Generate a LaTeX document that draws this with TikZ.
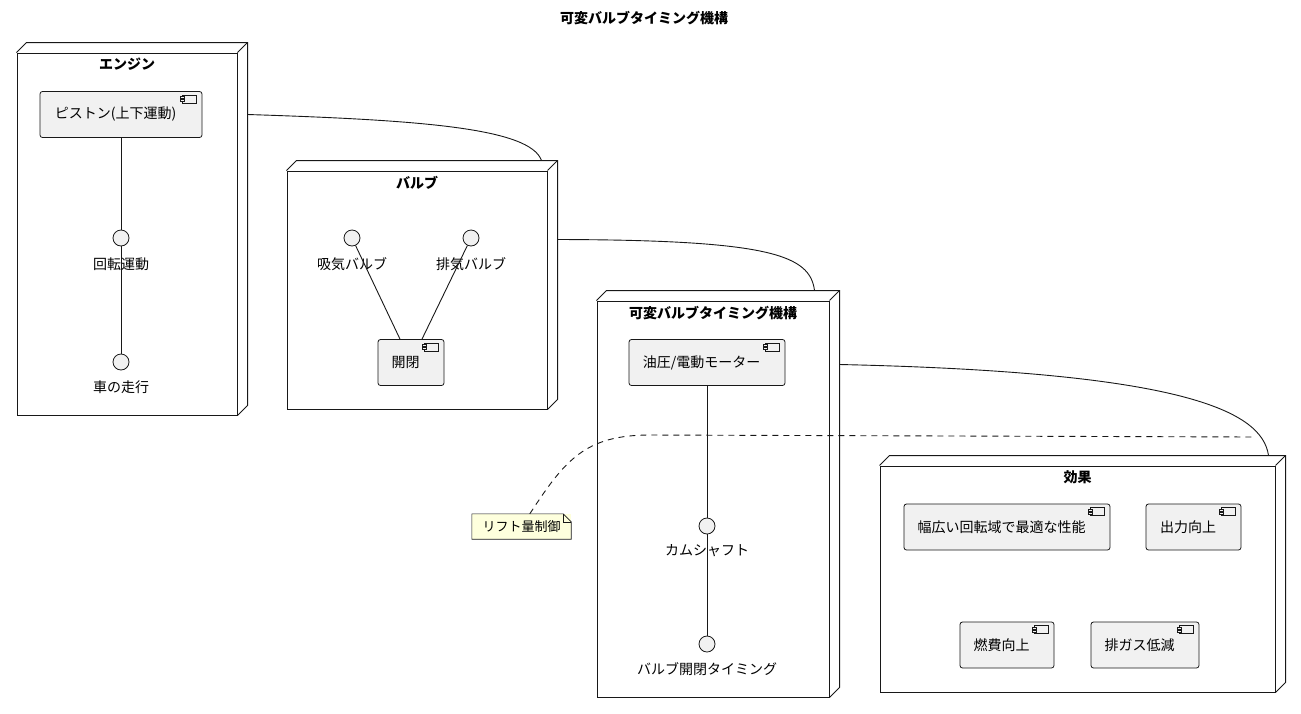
\documentclass[tikz,border=0pt]{standalone}
\usepackage{fontspec}
\setmainfont{Noto Sans CJK JP}
\usepackage{tikz}
\usetikzlibrary{calc}
\definecolor{UMLGray}{HTML}{F1F1F1}
\definecolor{UMLLine}{HTML}{181818}
\definecolor{UMLNote}{HTML}{FEFFDD}
\tikzstyle{box} = [draw=UMLLine, line width=1pt, inner sep=0pt]
\tikzstyle{boxtitle} = [font=\fontsize{14}{16}\selectfont\bfseries, anchor=north]
\tikzstyle{comp} = [draw=UMLLine, fill=UMLGray, rounded corners=2.5pt, line width=0.8pt, font=\fontsize{14}{16}\selectfont, minimum height=46pt, inner sep=0pt]
\tikzstyle{iface} = [circle, draw=UMLLine, fill=UMLGray, minimum size=16pt, inner sep=0pt, line width=0.8pt]
\tikzstyle{lbl} = [font=\fontsize{14}{16}\selectfont, inner sep=1pt]
\tikzstyle{note} = [fill=UMLNote, font=\fontsize{13}{15}\selectfont, minimum width=99pt, minimum height=25pt, inner sep=0pt]
\tikzstyle{link} = [UMLLine, line width=0.9pt]
% component text sits low and leaves room for the symbol
\newcommand{\ctext}[1]{\raisebox{-3.5pt}{#1}\hspace*{11pt}}
% small component symbol in the top right corner
\newcommand{\compicon}[1]{
  \draw[UMLLine, line width=0.5pt, fill=UMLGray] ($(#1.north east)+(-20,4)$) rectangle ($(#1.north east)+(-6,12)$);
  \draw[UMLLine, line width=0.5pt, fill=UMLGray] ($(#1.north east)+(-22,5.5)$) rectangle ($(#1.north east)+(-18,7.5)$);
  \draw[UMLLine, line width=0.5pt, fill=UMLGray] ($(#1.north east)+(-22,8.5)$) rectangle ($(#1.north east)+(-18,10.5)$);
}
% 3d edges of a node box
\newcommand{\boxdepth}[1]{
  \draw[UMLLine, line width=1pt] (#1.north west) -- ++(10,-10) -- ($(#1.north east)+(10,-10)$) -- ($(#1.south east)+(10,-10)$) -- (#1.south east);
  \draw[UMLLine, line width=1pt] (#1.north east) -- ++(10,-10);
}

\begin{document}
\begin{tikzpicture}[x=1pt, y=-1pt]
  \useasboundingbox (0,0) rectangle (1301,713);
  \node[boxtitle] (title) at (644,8) {可変バルブタイミング機構};

  % the four node boxes
  \node[box, minimum width=220pt, minimum height=362pt] (engine) at (127,234) {};
  \node[boxtitle] (enginetitle) at ($(engine.north)+(0,2)$) {エンジン};
  \node[box, minimum width=260pt, minimum height=238pt] (valve) at (417,290) {};
  \node[boxtitle] (valvetitle) at ($(valve.north)+(0,2)$) {バルブ};
  \node[box, minimum width=232pt, minimum height=396pt] (vvt) at (713,499) {};
  \node[boxtitle] (vvttitle) at ($(vvt.north)+(0,2)$) {可変バルブタイミング機構};
  \node[box, minimum width=395pt, minimum height=226pt] (effect) at (1077.5,579) {};
  \node[boxtitle] (effecttitle) at ($(effect.north)+(0,2)$) {効果};
  \foreach \b in {engine,valve,vvt,effect} {
    \boxdepth{\b}
  }

  % engine
  \node[comp, minimum width=162pt] (piston) at (121,114.5) {\ctext{ピストン(上下運動)}};
  \node[iface] (rotation) at (121,238) {};
  \node[lbl] (rotationlbl) at (121,264) {回転運動};
  \node[iface] (driving) at (121,362) {};
  \node[lbl] (drivinglbl) at (121,387) {車の走行};
  \draw[link] (piston) -- (rotation);
  \draw[link] (rotation) -- (driving);

  % valve
  \node[iface] (intake) at (352,238) {};
  \node[lbl] (intakelbl) at (352,264) {吸気バルブ};
  \node[iface] (exhaust) at (471,238) {};
  \node[lbl] (exhaustlbl) at (471,264) {排気バルブ};
  \node[comp, minimum width=66pt] (openclose) at (411,362.5) {\ctext{開閉}};
  \draw[link] (intake) -- ($(openclose.north)+(-11,0)$);
  \draw[link] (exhaust) -- ($(openclose.north)+(11,0)$);

  % variable valve timing
  \node[comp, minimum width=156pt] (motor) at (707,362.5) {\ctext{油圧/電動モーター}};
  \node[iface] (camshaft) at (707,526) {};
  \node[lbl] (camshaftlbl) at (707,551) {カムシャフト};
  \node[iface] (timing) at (707,644) {};
  \node[lbl] (timinglbl) at (707,669) {バルブ開閉タイミング};
  \draw[link] (motor) -- (camshaft);
  \draw[link] (camshaft) -- (timing);

  % effect
  \node[comp, minimum width=206pt] (performance) at (1007,527) {\ctext{幅広い回転域で最適な性能}};
  \node[comp, minimum width=95pt] (power) at (1193.5,527) {\ctext{出力向上}};
  \node[comp, minimum width=94pt] (fuel) at (1007,645) {\ctext{燃費向上}};
  \node[comp, minimum width=108pt] (emission) at (1145,645) {\ctext{排ガス低減}};
  \foreach \c in {piston,openclose,motor,performance,power,fuel,emission} {
    \compicon{\c}
  }

  % links between boxes
  \draw[link] ($(engine.north east)+(10,62)$) .. controls (420,120) and (530,128) .. ($(valve.north east)+(-6,-10)$);
  \draw[link] ($(valve.north east)+(10,69)$) .. controls (770,240) and (810,255) .. ($(vvt.north east)+(-15,-10)$);
  \draw[link] ($(vvt.north east)+(10,64)$) .. controls (1180,372) and (1262,410) .. ($(effect.north east)+(-7,-10)$);

  % note
  \node[note] (lift) at (521.5,526.5) {リフト量制御};
  \draw[UMLLine, line width=0.6pt] (lift.north west) -- ($(lift.north east)+(-8,0)$) -- ($(lift.north east)+(0,8)$) -- (lift.south east) -- (lift.south west) -- cycle;
  \draw[UMLLine, line width=0.6pt] ($(lift.north east)+(-8,0)$) |- ($(lift.north east)+(0,8)$);
  \coordinate (liftend) at (1255,437);
  \draw[link, dash pattern=on 6pt off 5pt] ($(lift.north west)+(58,0)$) .. controls (565,460) and (585,435) .. (650,435) -- (liftend);
\end{tikzpicture}
\end{document}
